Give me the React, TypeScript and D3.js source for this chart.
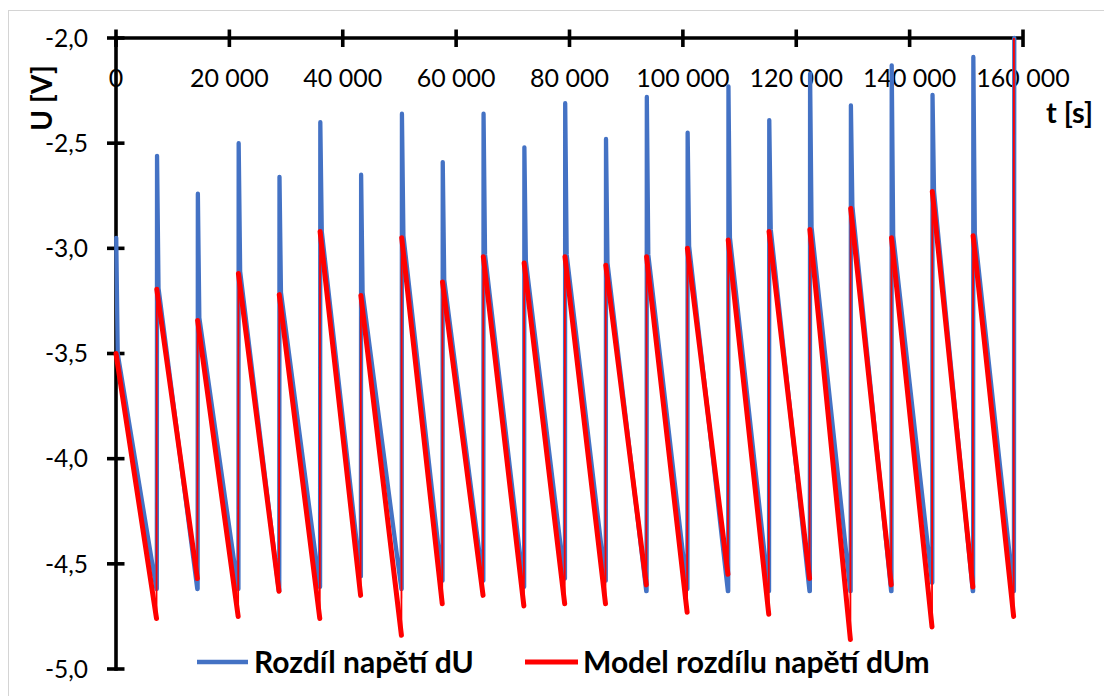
import { useRef, useEffect } from 'react'
import * as d3 from 'd3'

// cycle start times [s] read from the spikes
const cycleStarts = [
  0, 7200, 14400, 21600, 28800, 36000, 43200, 50400, 57600, 64800, 72000,
  79200, 86400, 93600, 100800, 108000, 115200, 122400, 129600, 136800, 144000, 151200,
]
const finalRise = { t: 158400, blue: -2.0, model: -2.0 }

// measured dU per cycle [V]
const bluePeaks = [
  -2.95, -2.56, -2.74, -2.5, -2.66, -2.4, -2.65, -2.36, -2.59, -2.36, -2.52,
  -2.31, -2.48, -2.28, -2.45, -2.23, -2.39, -2.17, -2.32, -2.13, -2.27, -2.09,
]
const blueKnees = [
  -3.5, -3.19, -3.33, -3.11, -3.21, -2.92, -3.21, -2.94, -3.15, -3.03, -3.06,
  -3.03, -3.07, -3.03, -2.99, -2.95, -2.91, -2.9, -2.8, -2.94, -2.73, -2.93,
]
const blueBottoms = [
  -4.62, -4.62, -4.62, -4.63, -4.61, -4.56, -4.62, -4.58, -4.58, -4.61, -4.57,
  -4.58, -4.63, -4.62, -4.63, -4.63, -4.63, -4.63, -4.63, -4.59, -4.63, -4.63,
]

// model dUm per cycle [V]
const modelStarts = [
  -3.5, -3.195, -3.343, -3.12, -3.22, -2.92, -3.224, -2.95, -3.16, -3.04, -3.07,
  -3.04, -3.08, -3.04, -3.0, -2.96, -2.92, -2.91, -2.81, -2.95, -2.73, -2.94,
]
const modelEnds = [
  -4.76, -4.57, -4.75, -4.63, -4.76, -4.65, -4.84, -4.69, -4.65, -4.7, -4.69,
  -4.69, -4.6, -4.73, -4.55, -4.74, -4.57, -4.86, -4.6, -4.8, -4.61, -4.75,
]

const xTicks = [0, 20000, 40000, 60000, 80000, 100000, 120000, 140000, 160000]
const yTicks = [-2.0, -2.5, -3.0, -3.5, -4.0, -4.5, -5.0]

const seriesNames = ['Rozdíl napětí dU', 'Model rozdílu napětí dUm']
const seriesColors = ['#4472C4', '#FF0000']

const W = 1104
const H = 696
const FONT = 'Lato, "Open Sans", sans-serif'

export default function App() {
  const svgRef = useRef<SVGSVGElement>(null)

  useEffect(() => {
    if (!svgRef.current) return
    const svg = d3.select(svgRef.current)
    svg.selectAll('*').remove()

    const x = d3.scaleLinear().domain([0, 160000]).range([116, 1023])
    const y = d3.scaleLinear().domain([-5, -2]).range([669, 38])

    const cz = d3.formatLocale({
      decimal: ',',
      thousands: ' ',
      grouping: [3],
      currency: ['', ''],
      minus: '-',
    })
    const fx = cz.format(',d')
    const fy = cz.format('.1f')

    // chart frame
    svg.append('rect')
      .attr('x', 8.5).attr('y', 10.5)
      .attr('width', 1200).attr('height', 800)
      .attr('fill', '#fff')
      .attr('stroke', '#D4D4D4')

    // build series points
    const ends = [...cycleStarts.slice(1), finalRise.t]
    const bluePts: [number, number][] = []
    cycleStarts.forEach((t0, i) => {
      if (i > 0) bluePts.push([t0, blueBottoms[i - 1]])
      bluePts.push([t0 + 40, bluePeaks[i]])
      bluePts.push([t0 + 300, blueKnees[i]])
      bluePts.push([ends[i] - 60, blueBottoms[i]])
    })
    bluePts.push([finalRise.t, blueBottoms[blueBottoms.length - 1]])
    bluePts.push([finalRise.t + 60, finalRise.blue])

    const line = d3.line<[number, number]>()
      .x(d => x(d[0]))
      .y(d => y(d[1]))

    // tick labels (drawn under the series)
    svg.append('g')
      .selectAll('text')
      .data(xTicks)
      .join('text')
      .attr('x', d => x(d))
      .attr('y', 87)
      .attr('text-anchor', 'middle')
      .attr('font-family', FONT)
      .attr('font-size', 25)
      .attr('fill', '#000')
      .text(d => fx(d))

    svg.append('g')
      .selectAll('text')
      .data(yTicks)
      .join('text')
      .attr('x', 88)
      .attr('y', d => y(d))
      .attr('dy', '0.36em')
      .attr('text-anchor', 'end')
      .attr('font-family', FONT)
      .attr('font-size', 24.5)
      .attr('fill', '#000')
      .text(d => fy(d))

    // axes
    const ax = svg.append('g').attr('stroke', '#000').attr('stroke-width', 3.6)
    ax.append('line')
      .attr('x1', x(0)).attr('x2', x(160000))
      .attr('y1', y(-2)).attr('y2', y(-2))
    ax.append('line')
      .attr('x1', x(0)).attr('x2', x(0))
      .attr('y1', y(-2)).attr('y2', y(-5))
      .attr('stroke-linecap', 'square')
    ax.selectAll('line.xt')
      .data(xTicks)
      .join('line')
      .attr('class', 'xt')
      .attr('x1', d => x(d)).attr('x2', d => x(d))
      .attr('y1', y(-2) - 8.5).attr('y2', y(-2) + 9)
    ax.selectAll('line.yt')
      .data(yTicks)
      .join('line')
      .attr('class', 'yt')
      .attr('x1', x(0) - 9).attr('x2', x(0) + 8.5)
      .attr('y1', d => y(d)).attr('y2', d => y(d))

    // measured dU
    svg.append('path')
      .attr('d', line(bluePts) ?? '')
      .attr('fill', 'none')
      .attr('stroke', seriesColors[0])
      .attr('stroke-width', 4.3)
      .attr('stroke-linejoin', 'round')
      .attr('stroke-linecap', 'round')

    // model dUm: thin jumps, thick decays
    const g = svg.append('g').attr('fill', 'none').attr('stroke', seriesColors[1])
    cycleStarts.forEach((t0, i) => {
      const tEnd = ends[i] - 50
      g.append('path')
        .attr('d', line([[t0, modelStarts[i]], [tEnd, modelEnds[i]]]) ?? '')
        .attr('stroke-width', 5)
        .attr('stroke-linecap', 'round')
      const nextV = i + 1 < modelStarts.length ? modelStarts[i + 1] : finalRise.model
      g.append('path')
        .attr('d', line([[tEnd, modelEnds[i]], [ends[i], nextV]]) ?? '')
        .attr('stroke-width', 1.8)
    })

    // axis titles
    svg.append('text')
      .attr('transform', 'translate(52, 98) rotate(-90)')
      .attr('text-anchor', 'middle')
      .attr('font-family', FONT)
      .attr('font-weight', 700)
      .attr('font-size', 28)
      .text('U [V]')
    svg.append('text')
      .attr('x', 1093)
      .attr('y', 123)
      .attr('text-anchor', 'end')
      .attr('font-family', FONT)
      .attr('font-weight', 700)
      .attr('font-size', 29)
      .text('t [s]')

    // legend
    const legend = [
      { x1: 197, x2: 248, tx: 254 },
      { x1: 525, x2: 578, tx: 583 },
    ]
    legend.forEach((l, i) => {
      svg.append('line')
        .attr('x1', l.x1).attr('x2', l.x2)
        .attr('y1', 662).attr('y2', 662)
        .attr('stroke', seriesColors[i])
        .attr('stroke-width', i === 0 ? 4.3 : 5)
      svg.append('text')
        .attr('x', l.tx)
        .attr('y', 673)
        .attr('font-family', FONT)
        .attr('font-weight', 700)
        .attr('font-size', 30)
        .text(seriesNames[i])
    })

    return () => {
      svg.selectAll('*').remove()
    }
  }, [])

  return (
    <svg
      ref={svgRef}
      width={W}
      height={H}
      style={{ position: 'absolute', left: 0, top: 0, background: '#fff' }}
    />
  )
}
